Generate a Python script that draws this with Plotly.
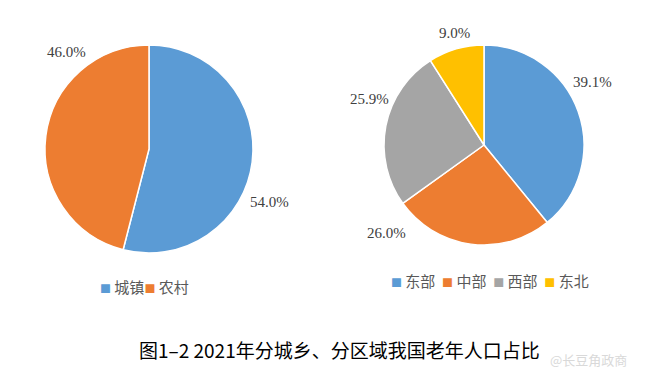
import plotly.graph_objects as go

# ---- data ----
urban_labels = ["城镇", "农村"]
urban_values = [54.0, 46.0]
region_labels = ["东部", "中部", "西部", "东北"]
region_values = [39.1, 26.0, 25.9, 9.0]
title_text = "图1–2 2021年分城乡、分区域我国老年人口占比"

urban_colors = ["#5B9BD5", "#ED7D31"]
region_colors = ["#5B9BD5", "#ED7D31", "#A5A5A5", "#FFC000"]

W, H = 660, 378

fig = go.Figure()
fig.add_trace(go.Pie(
    labels=urban_labels, values=urban_values, sort=False, direction="clockwise",
    rotation=0, marker=dict(colors=urban_colors, line=dict(color="white", width=1.5)),
    textinfo="none", hoverinfo="label+percent", showlegend=False,
    domain=dict(x=[45/W, 253/W], y=[1-253/H, 1-45/H]),
))
fig.add_trace(go.Pie(
    labels=region_labels, values=region_values, sort=False, direction="clockwise",
    rotation=0, marker=dict(colors=region_colors, line=dict(color="white", width=1.5)),
    textinfo="none", hoverinfo="label+percent", showlegend=False,
    domain=dict(x=[384/W, 584/W], y=[1-245/H, 1-45/H]),
))

def ann(x, y, text, font):
    fig.add_annotation(x=x/W, y=1-y/H, xref="paper", yref="paper", text=text,
                       xanchor="center", yanchor="middle", showarrow=False, font=font)

label_font = dict(family="Liberation Serif, Times New Roman, serif", size=15, color="#404040")
# label anchor positions (pixels) for each slice
urban_label_pos = [(269, 202), (66, 52)]
region_label_pos = [(592, 82), (387, 233), (370, 99), (454, 33)]
for v, (x, y) in zip(urban_values, urban_label_pos):
    ann(x, y, f"{v:.1f}%", label_font)
for v, (x, y) in zip(region_values, region_label_pos):
    ann(x, y, f"{v:.1f}%", label_font)

def legend_text(labels, colors, inner, sep):
    parts = []
    for lab, c in zip(labels, colors):
        parts.append(f"<span style='color:{c};font-size:11px'>■</span>{inner}{lab}")
    return sep.join(parts)

leg_font = dict(family="Noto Sans CJK SC, sans-serif", size=15, color="#595959")
ann(144, 286, legend_text(urban_labels, urban_colors, "&nbsp;", ""), leg_font)
ann(490, 280, legend_text(region_labels, region_colors, "&nbsp;", "&nbsp;&nbsp;"), leg_font)

ann(339, 349, title_text, dict(family="Noto Sans CJK SC, sans-serif", size=19, color="#000000"))
ann(588, 359, "@长豆角政商", dict(family="Noto Sans CJK SC, sans-serif", size=13, color="#d9d9d9"))

fig.update_layout(width=W, height=H, margin=dict(l=0, r=0, t=0, b=0),
                  paper_bgcolor="white", plot_bgcolor="white")
fig.write_html("out.html", config={"displayModeBar": False},
               post_script="document.body.style.margin='0';")
